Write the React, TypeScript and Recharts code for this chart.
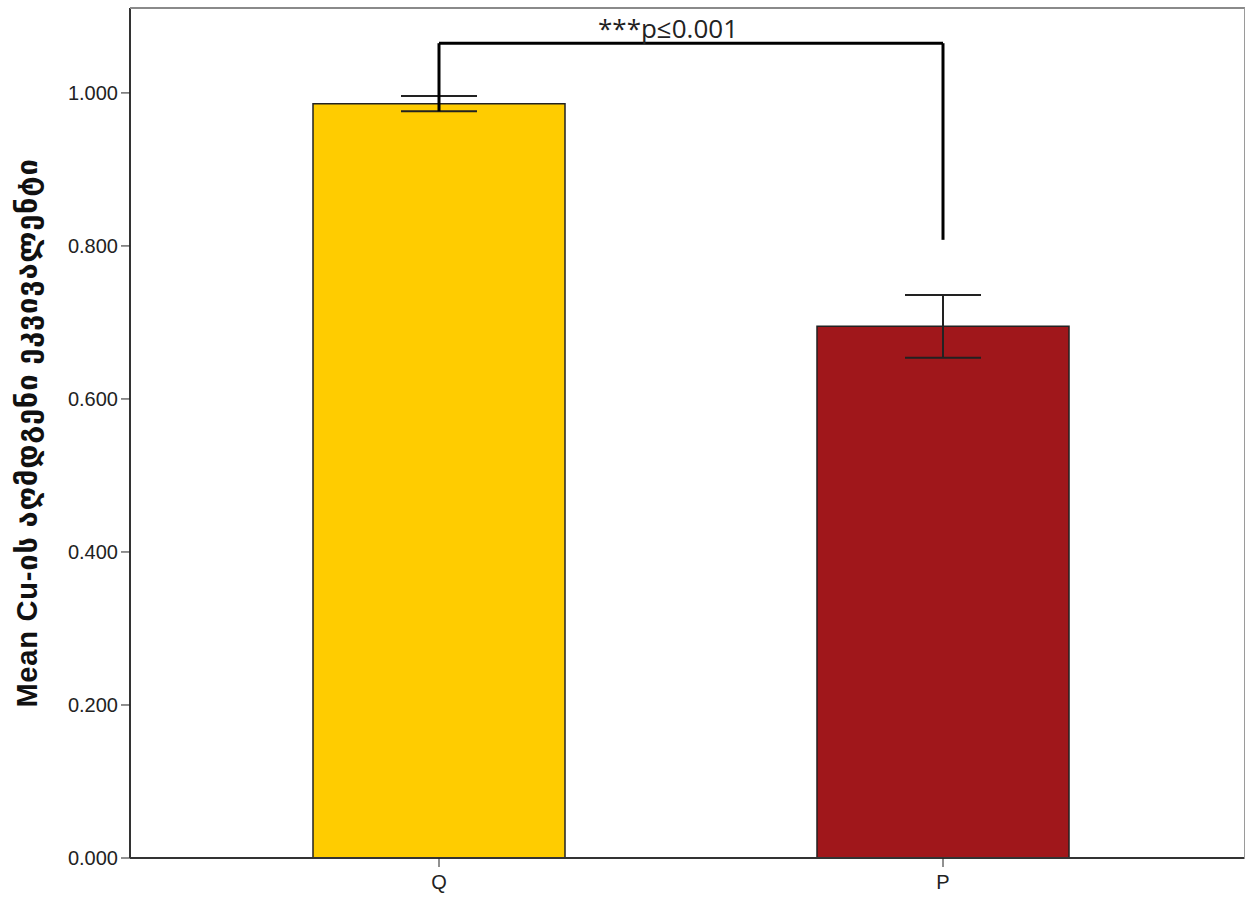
import { Bar, BarChart, Cell, ErrorBar, ReferenceLine, XAxis, YAxis } from "recharts"

const groups = ["Q", "P"]
const means = [0.986, 0.695]
const errors = [0.01, 0.041]
const barColors = ["#ffcc00", "#a0171b"]
const yTicks = [0, 0.2, 0.4, 0.6, 0.8, 1.0]

const bracketTop = 1.065
const bracketLeftEnd = 0.976
const bracketRightEnd = 0.808
const pLabel = "***p≤0.001"
const yLabel = "Mean Cu-ის აღმდგენი ეკვივალენტი"

const rows = groups.map((name, i) => ({ name, value: means[i], err: errors[i] }))

const font = "Arial, 'Liberation Sans', 'DejaVu Sans', sans-serif"

function YTitle({ viewBox }: any) {
  const cy = viewBox.y + viewBox.height / 2
  return (
    <text
      x={27}
      y={cy}
      transform={`rotate(-90, 27, ${cy})`}
      textAnchor="middle"
      dominantBaseline="central"
      fontFamily={font}
      fontWeight="bold"
      fontSize={29}
      letterSpacing={0.8}
      fill="#111"
    >
      {yLabel}
    </text>
  )
}

export default function App() {
  return (
    <div style={{ position: "absolute", top: 0, left: 0, width: 1251, height: 903, background: "#fff" }}>
      <BarChart width={1251} height={903} data={rows} margin={{ top: 8, right: 6, bottom: 0, left: 10 }}>
        <XAxis
          dataKey="name"
          padding={{ left: 57, right: 50 }}
          height={45}
          tickSize={9}
          tickMargin={8}
          stroke="#222"
          tick={{ fontFamily: font, fontSize: 20, fill: "#222" }}
          axisLine={{ stroke: "#333", strokeWidth: 2 }}
        />
        <YAxis
          domain={[0, 1.111]}
          ticks={yTicks}
          width={120}
          tickSize={9}
          tickMargin={3}
          stroke="#222"
          tickFormatter={(v: number) => v.toFixed(3)}
          tick={{ fontFamily: font, fontSize: 20, fill: "#222" }}
          axisLine={{ stroke: "#333", strokeWidth: 2 }}
          label={<YTitle />}
        />
        <Bar dataKey="value" barSize={252} stroke="#222" strokeWidth={1.5} isAnimationActive={false}>
          {rows.map((r, i) => (
            <Cell key={r.name} fill={barColors[i]} />
          ))}
          <ErrorBar dataKey="err" width={38} stroke="#222" strokeWidth={2} />
        </Bar>
        <ReferenceLine
          segment={[{ x: "Q", y: bracketTop }, { x: "P", y: bracketTop }]}
          stroke="#000"
          strokeWidth={3}
          label={{ value: pLabel, position: "top", offset: 5, dx: -23, fontSize: 26, fill: "#222", fontFamily: "'Open Sans', 'DejaVu Sans', sans-serif" }}
        />
        <ReferenceLine segment={[{ x: "Q", y: bracketLeftEnd }, { x: "Q", y: bracketTop }]} stroke="#000" strokeWidth={3} />
        <ReferenceLine segment={[{ x: "P", y: bracketRightEnd }, { x: "P", y: bracketTop }]} stroke="#000" strokeWidth={3} />
      </BarChart>
      <div
        style={{
          position: "absolute",
          left: 130,
          top: 7,
          width: 1114,
          height: 850,
          borderTop: "2px solid #8a8a8a",
          borderRight: "1.5px solid #9a9a9a",
          pointerEvents: "none",
        }}
      />
    </div>
  )
}
